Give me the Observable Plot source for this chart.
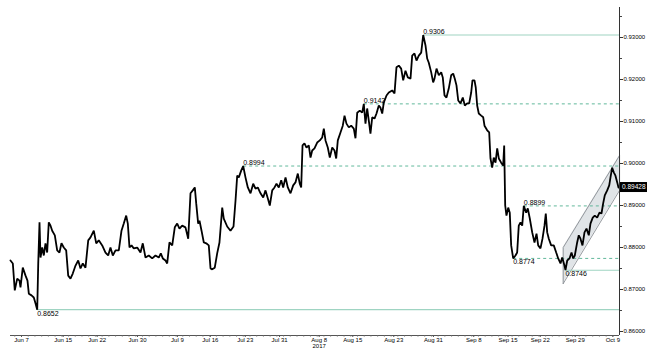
<!DOCTYPE html>
<html>
<head>
<meta charset="utf-8">
<script src="https://cdn.jsdelivr.net/npm/d3@7"></script>
<script src="https://cdn.jsdelivr.net/npm/@observablehq/plot@0.6"></script>
<style>
  html, body { margin: 0; padding: 0; background: #fff; }
  #chart svg { display: block; }
</style>
</head>
<body>
<div id="chart"></div>
<script>
// Trading-session index (0 = Jun 7, 2017) and EUR/GBP-style price
const days = [-1.64,-1.29,-1.00,-0.64,-0.30,-0.15,0.19,0.60,0.89,1.09,1.49,1.83,2.08,2.34,2.49,2.68,2.83,3.08,3.32,3.57,3.82,4.06,4.32,4.57,4.96,5.31,5.65,5.95,6.29,6.65,6.95,7.29,7.63,8.04,8.44,8.78,9.12,9.52,9.93,10.27,10.76,11.12,11.50,12.01,12.50,12.90,13.24,13.59,13.99,14.48,14.88,15.22,15.58,15.82,16.07,16.37,16.71,17.22,17.71,18.05,18.45,18.94,19.45,19.94,20.43,20.73,21.03,21.43,21.68,22.02,22.43,22.81,23.17,23.51,23.91,24.40,24.81,25.15,25.49,25.79,26.00,26.29,26.49,26.79,27.13,27.49,27.87,28.13,28.38,28.76,29.12,29.46,29.87,30.10,30.61,31.10,31.55,31.85,32.10,
32.34,32.69,32.99,33.33,33.68,34.08,34.48,34.82,35.16,35.57,35.97,36.31,36.65,36.95,37.31,37.65,37.95,38.29,38.65,38.94,39.29,39.63,40.03,40.43,40.77,41.12,41.41,41.62,41.82,42.11,42.41,42.75,43.01,43.26,43.60,44.00,44.39,44.75,44.99,45.24,45.58,45.88,46.24,46.58,46.83,47.07,47.47,47.81,48.07,48.36,48.71,49.06,49.45,49.70,49.96,50.34,50.70,50.94,51.19,51.44,51.74,51.93,52.19,52.53,52.83,53.17,53.42,53.68,53.91,54.32,54.66,55.16,55.51,55.80,56.15,56.50,56.80,57.14,57.49,57.89,58.14,58.48,58.78,59.12,59.48,59.78,
60.12,60.37,60.61,60.97,61.26,61.46,61.76,62.10,62.46,62.69,62.95,63.24,63.59,63.94,64.24,64.48,64.73,64.99,65.33,65.67,65.97,66.32,66.62,66.92,67.11,67.41,67.60,67.81,68.05,68.41,68.71,68.90,69.30,69.60,69.79,70.04,70.28,70.54,70.79,71.03,71.38,71.68,71.83,71.98,72.17,72.43,72.66,72.87,73.17,73.51,73.76,74.00,74.26,74.51,74.75,75.10,75.34,75.64,76.00,76.34,76.64,76.89,77.23,77.53,77.83,78.02,78.23,78.47,78.82,79.21,79.57,79.87,80.21,80.46,80.80,80.95,81.21,81.55,81.85,82.10,82.34,82.69,82.93,83.18,83.48,83.78,84.08,84.42,84.67,85.01,85.31,85.67,86.01,86.31,86.56,86.80,87.16,87.46,87.65,87.90,88.14,88.39,88.65,88.84];
const prices = [0.8769,0.8762,0.8698,0.8726,0.8721,0.8705,0.8752,0.8733,0.8721,0.8690,0.8686,0.8681,0.8667,0.8652,0.8762,0.8860,0.8776,0.8800,0.8781,0.8810,0.8788,0.8860,0.8852,0.8840,0.8829,0.8793,0.8788,0.8810,0.8800,0.8793,0.8733,0.8726,0.8738,0.8757,0.8769,0.8750,0.8762,0.8752,0.8817,0.8824,0.8840,0.8810,0.8817,0.8805,0.8788,0.8781,0.8800,0.8781,0.8793,0.8793,0.8840,0.8857,0.8876,0.8857,0.8800,0.8805,0.8798,0.8800,0.8788,0.8810,0.8776,0.8781,0.8774,0.8781,0.8776,0.8786,0.8774,0.8769,0.8762,0.8812,0.8805,0.8848,0.8857,0.8845,0.8852,0.8848,0.8821,0.8929,0.8936,0.8943,0.8905,0.8857,0.8864,0.8840,0.8812,0.8810,0.8805,0.8750,0.8748,0.8752,0.8786,0.8812,0.8895,0.8869,0.8850,0.8840,0.8850,0.8912,0.8971,
0.8967,0.8983,0.8994,0.8967,0.8943,0.8929,0.8952,0.8940,0.8943,0.8929,0.8919,0.8936,0.8917,0.8900,0.8936,0.8943,0.8952,0.8943,0.8960,0.8943,0.8967,0.8943,0.8929,0.8948,0.8955,0.8976,0.8952,0.8943,0.9043,0.9048,0.9038,0.9043,0.9014,0.9031,0.9036,0.9050,0.9055,0.9062,0.9083,0.9055,0.9038,0.9014,0.9038,0.9031,0.9012,0.9055,0.9074,0.9090,0.9114,0.9095,0.9086,0.9090,0.9083,0.9060,0.9121,0.9126,0.9121,0.9142,0.9095,0.9131,0.9095,0.9071,0.9110,0.9107,0.9119,0.9138,0.9133,0.9119,0.9145,0.9162,0.9169,0.9174,0.9167,0.9229,0.9233,0.9226,0.9198,0.9221,0.9205,0.9202,0.9257,0.9262,0.9245,0.9257,0.9264,0.9306,
0.9281,0.9250,0.9240,0.9217,0.9193,0.9202,0.9226,0.9210,0.9217,0.9205,0.9162,0.9157,0.9179,0.9210,0.9214,0.9202,0.9186,0.9150,0.9143,0.9157,0.9138,0.9143,0.9143,0.9169,0.9198,0.9198,0.9181,0.9138,0.9119,0.9114,0.9110,0.9090,0.9079,0.9074,0.9012,0.8990,0.9014,0.9002,0.9036,0.9012,0.9002,0.8995,0.9043,0.8900,0.8876,0.8895,0.8883,0.8805,0.8774,0.8781,0.8788,0.8852,0.8860,0.8852,0.8899,0.8883,0.8893,0.8869,0.8836,0.8812,0.8833,0.8805,0.8798,0.8821,0.8852,0.8881,0.8836,0.8821,0.8805,0.8805,0.8788,0.8774,0.8762,0.8776,0.8757,0.8746,0.8769,0.8774,0.8788,0.8774,0.8781,0.8812,0.8829,0.8821,0.8805,0.8836,0.8845,0.8829,0.8857,0.8871,0.8876,0.8871,0.8883,0.8881,0.8905,0.8924,0.8936,0.8948,0.8967,0.8990,0.8979,0.8971,0.8955,0.89428];

// Date tick labels at their session positions
const tickDays = [0, 6.2, 11.26, 17.26, 23.2, 28.1, 33.3, 38.4, 44.3, 49.3, 55.4, 61.3, 67.3, 72.4, 77.2, 82.4, 88];
const tickLabels = ["Jun 7","Jun 15","Jun 22","Jun 30","Jul 9","Jul 16","Jul 23","Jul 31","Aug 8","Aug 15","Aug 23","Aug 31","Sep 8","Sep 15","Sep 22","Sep 29","Oct 9"];
const yearLabel = "2017";
const yearTickIndex = 8;

// Price axis ticks
const yTicks = [0.86, 0.87, 0.88, 0.89, 0.90, 0.91, 0.92, 0.93];
const yMinorTicks = [0.865, 0.875, 0.885, 0.895, 0.905, 0.915, 0.925, 0.935];

// Horizontal support / resistance levels
const levelValues = [0.9306, 0.9142, 0.8994, 0.8899, 0.8774, 0.8746, 0.8652];
const levelStart  = [59.78, 50.94, 32.99, 74.75, 73.17, 80.95, 2.34];
const levelSolid  = [true, false, false, false, false, true, true];
const levelAbove  = [true, true, true, true, false, false, false];

// Rising channel
const channelX = [80.61, 89.0];
const channelUpper = [0.8800, 0.9019];
const channelLower = [0.8714, 0.8936];

const xDomain = [-1.637, 88.99];
const yDomain = [0.859048, 0.937143];

const series = days.map((d, i) => ({d, p: prices[i]}));
const levels = levelValues.map((v, i) => ({v, start: levelStart[i], end: xDomain[1], solid: levelSolid[i], above: levelAbove[i], label: v.toFixed(4)}));
const channelPoly = [
  {x: channelX[0], y: channelLower[0]},
  {x: channelX[0], y: channelUpper[0]},
  {x: channelX[1], y: channelUpper[1]},
  {x: channelX[1], y: channelLower[1]},
  {x: channelX[0], y: channelLower[0]}
];
const channelArea = channelX.map((x, i) => ({x, lo: channelLower[i], hi: channelUpper[i]}));
const minorDays = d3.range(-1, 89);
const fmtTick = (d, i) => i === yearTickIndex ? tickLabels[i] + "\n" + yearLabel : tickLabels[i];
const FONT = "'Liberation Sans', Arial, sans-serif";

const plot = Plot.plot({
  width: 662,
  height: 358,
  marginTop: 7,
  marginBottom: 23,
  marginLeft: 10,
  marginRight: 43,
  style: {fontFamily: FONT, background: "#fff", color: "#000"},
  x: {domain: xDomain},
  y: {domain: yDomain},
  marks: [
    Plot.areaY(channelArea, {x: "x", y1: "lo", y2: "hi", fill: "#dde1e4", fillOpacity: 0.9}),
    Plot.line(channelPoly, {x: "x", y: "y", stroke: "#8a8f94", strokeWidth: 0.9}),
    Plot.link(levels.filter(l => l.solid), {x1: "start", x2: "end", y1: "v", y2: "v", stroke: "#9fd4c2", strokeWidth: 1.1}),
    Plot.link(levels.filter(l => !l.solid), {x1: "start", x2: "end", y1: "v", y2: "v", stroke: "#4fb08f", strokeWidth: 0.9, strokeDasharray: "3,3"}),
    Plot.line(series, {x: "d", y: "p", stroke: "#000", strokeWidth: 1.8, strokeLinejoin: "miter"}),
    Plot.text(levels.filter(l => l.above), {x: "start", y: "v", text: "label", textAnchor: "start", lineAnchor: "bottom", dy: -1, fontSize: 7, fill: "#000"}),
    Plot.text(levels.filter(l => !l.above), {x: "start", y: "v", text: "label", textAnchor: "start", lineAnchor: "top", dy: 1, fontSize: 7, fill: "#000"}),
    Plot.ruleY([yDomain[0]], {stroke: "#555", strokeWidth: 1}),
    Plot.ruleX([xDomain[1]], {stroke: "#333", strokeWidth: 1}),
    Plot.axisX({ticks: minorDays, tickFormat: () => "", tickSize: 1.5, stroke: "#666"}),
    Plot.axisX({ticks: tickDays, tickFormat: fmtTick, tickSize: 2, tickPadding: 0.5, fontSize: 6, stroke: "#555", fill: "#000"}),
    Plot.axisY({anchor: "right", ticks: yMinorTicks, tickFormat: () => "", tickSize: 2, stroke: "#444"}),
    Plot.axisY({anchor: "right", ticks: yTicks, tickFormat: d3.format(".5f"), tickSize: 3, tickPadding: 1, fontSize: 6, stroke: "#333", fill: "#000"})
  ]
});

document.getElementById("chart").appendChild(plot);

// Last-price tag on the price axis
const ys = plot.scale("y");
const lastPrice = prices[prices.length - 1];
const yPos = ys.apply(lastPrice);
const svg = d3.select(plot);
const tagX = 662 - 43 + 1;
svg.append("rect").attr("x", tagX).attr("y", yPos - 5).attr("width", 27).attr("height", 10).attr("fill", "#000");
svg.append("text").attr("x", tagX + 2).attr("y", yPos).attr("dy", "0.35em")
  .attr("text-anchor", "start")
  .attr("fill", "#fff").attr("font-size", 6.5).attr("font-family", FONT)
  .text(d3.format(".5f")(lastPrice));
</script>
</body>
</html>
